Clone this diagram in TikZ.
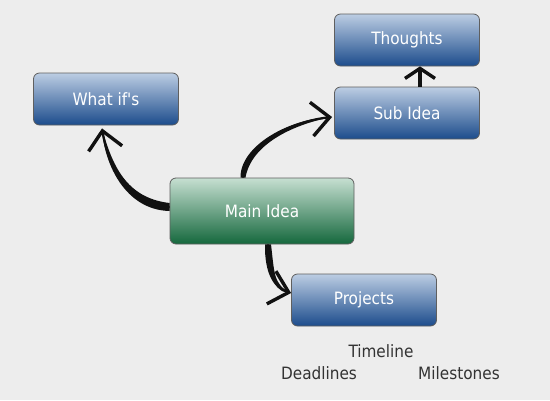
\documentclass[tikz,border=0pt]{standalone}
\usepackage{fontspec}
\setmainfont{DejaVu Sans Condensed}
\usepackage{tikz}
\usetikzlibrary{arrows.meta,positioning,calc}
\definecolor{canvas}{HTML}{EDEDED}
\definecolor{rim}{HTML}{5F5F5F}
\definecolor{bluetop}{HTML}{BCCDE3}
\definecolor{bluebot}{HTML}{1C4C8C}
\definecolor{greentop}{HTML}{C6DFD1}
\definecolor{greenbot}{HTML}{15683D}
\definecolor{ink}{HTML}{333333}
\definecolor{wire}{HTML}{111111}
\tikzset{
  idea/.style   ={draw=rim, line width=0.8pt, rounded corners=6pt, inner sep=0pt,
                  minimum width=145pt, minimum height=52pt, text=white,
                  font=\fontsize{17}{20}\selectfont},
  ideablue/.style ={idea, top color=bluetop, bottom color=bluebot},
  ideagreen/.style={idea, top color=greentop, bottom color=greenbot,
                  minimum width=184pt, minimum height=66pt},
  note/.style   ={text=ink, inner sep=0pt, font=\fontsize{17}{20}\selectfont},
  taper/.style  ={fill=wire},
  link/.style   ={draw=wire, line width=2.2pt,
                  -{Straight Barb[length=18pt,width=34pt,line width=3.4pt]}},
}
\begin{document}
\begin{tikzpicture}[x=1pt,y=1pt]
\fill[canvas] (0,0) rectangle (550,-400);
\useasboundingbox (0,0) rectangle (550,-400);
\node[ideagreen] (main)     at (262,-211) {Main Idea};
\node[ideablue]  (whatif)   at (106,-99)  {What if\textquotesingle s};
\node[ideablue]  (sub)      at (407,-113) {Sub Idea};
\node[ideablue]  (thoughts) at (407,-40)  {Thoughts};
\node[ideablue]  (projects) at (364,-300) {Projects};
\node[note] (timeline)   at (381,-351) {Timeline};
\node[note] (deadlines)  at (319,-373) {Deadlines};
\node[note] (milestones) at (459,-373) {Milestones};
% main -> what if's
\coordinate (wA) at ($(main.west)+(0,4)$);
\coordinate (wB) at ($(whatif.south)+(-4,-3)$);
\fill[taper] ($(wA)+(0,4)$) .. controls ($(wA)+(-44,9)$) and ($(wB)+(10,-36)$) .. (wB)
  .. controls ($(wB)+(2,-36)$) and ($(wA)+(-44,-3)$) .. ($(wA)+(0,-4)$) -- cycle;
\draw[link] (wA) .. controls ($(wA)+(-44,3)$) and ($(wB)+(6,-36)$) .. (wB);
% main -> sub idea
\coordinate (sA) at ($(main.north)+(-19,0)$);
\coordinate (sB) at ($(sub.west)+(-2,-4)$);
\fill[taper] ($(sA)+(-2.5,0)$) .. controls ($(sA)+(-3,32)$) and ($(sB)+(-42,-1)$) .. (sB)
  .. controls ($(sB)+(-42,-8)$) and ($(sA)+(8,32)$) .. ($(sA)+(2.5,0)$) -- cycle;
\draw[link] (sA) .. controls ($(sA)+(2.5,32)$) and ($(sB)+(-42,-4.5)$) .. (sB);
% main -> projects
\coordinate (pA) at ($(main.south)+(6,0)$);
\coordinate (pB) at ($(projects.west)+(0,7)$);
\fill[taper] ($(pA)+(-3,0)$) .. controls ($(pA)+(-3.5,-28)$) and ($(pB)+(-18,2)$) .. (pB)
  .. controls ($(pB)+(-18,8)$) and ($(pA)+(6.5,-28)$) .. ($(pA)+(3,0)$) -- cycle;
\draw[link] (pA) .. controls ($(pA)+(1.5,-28)$) and ($(pB)+(-18,5)$) .. (pB);
% sub idea -> thoughts
\draw[link, line width=3.5pt, -{Straight Barb[length=10pt,width=30pt,line width=3.4pt]}]
  ($(sub.north)+(13,0)$) -- ($(thoughts.south)+(13,0)$);
\end{tikzpicture}
\end{document}
